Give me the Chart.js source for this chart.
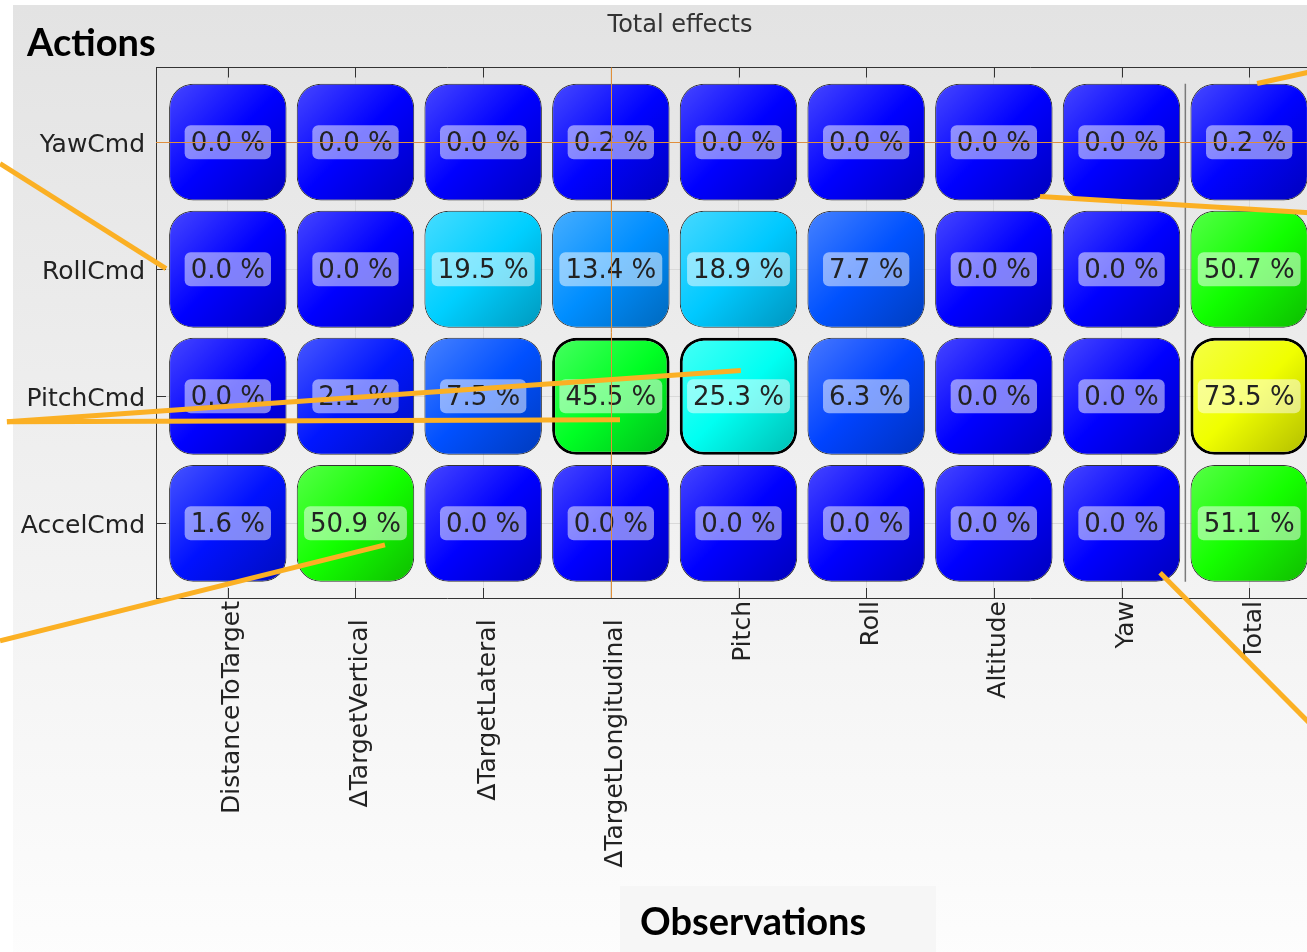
<!DOCTYPE html>
<html lang="en">
<head>
<meta charset="UTF-8" />
<title>Total effects</title>
<script src="https://cdn.jsdelivr.net/npm/chart.js@4"></script>
<style>
  html, body { margin: 0; padding: 0; overflow: hidden; background: #fff; width: 1307px; height: 952px; }
  #panel { position: absolute; left: 13px; top: 5px; width: 1400px; height: 960px; background: linear-gradient(#e3e3e3, #fdfdfd); }
  #wrap { position: absolute; left: 0; top: 0; width: 1360px; height: 952px; }
  #title { position: absolute; left: 480px; width: 400px; top: 10px; text-align: center; font-family: 'DejaVu Sans', sans-serif; font-size: 24px; line-height: 28px; color: #333; }
  .big { position: absolute; font-family: Lato, sans-serif; font-weight: bold; font-size: 38px; line-height: 38px; color: #000; white-space: nowrap; }
  #actions { left: 27px; top: 22px; }
  #obsBox { position: absolute; left: 620px; top: 886px; width: 316px; height: 70px; background: #f6f6f6; }
  #observations { left: 640px; top: 901px; }
</style>
</head>
<body>
<div id="panel"></div>
<div id="obsBox"></div>
<div id="wrap"><canvas id="chart"></canvas></div>
<div id="title">Total effects</div>
<div class="big" id="actions">Actions</div>
<div class="big" id="observations">Observations</div>

<script>
  // rows (actions) and columns (observations)
  const rows = ["YawCmd", "RollCmd", "PitchCmd", "AccelCmd"];
  const cols = ["DistanceToTarget", "ΔTargetVertical", "ΔTargetLateral", "ΔTargetLongitudinal",
                "Pitch", "Roll", "Altitude", "Yaw", "Total"];

  // effect in %, one array per action
  const yawCmd   = [0.0, 0.0, 0.0, 0.2, 0.0, 0.0, 0.0, 0.0, 0.2];
  const rollCmd  = [0.0, 0.0, 19.5, 13.4, 18.9, 7.7, 0.0, 0.0, 50.7];
  const pitchCmd = [0.0, 2.1, 7.5, 45.5, 25.3, 6.3, 0.0, 0.0, 73.5];
  const accelCmd = [1.6, 50.9, 0.0, 0.0, 0.0, 0.0, 0.0, 0.0, 51.1];
  const series = [yawCmd, rollCmd, pitchCmd, accelCmd];

  // cells drawn with a heavy outline: [row, col]
  const highlighted = [[2, 3], [2, 4], [2, 8]];
  // data cursor
  const cursorRow = 0, cursorCol = 3;

  const CELL = 0.92;       // cell size in axis units
  const HALF = CELL / 2;

  // blue -> cyan -> green -> yellow -> red
  const cmap = [[0, [0, 0, 255]], [24, [0, 255, 255]], [49, [0, 255, 0]], [75, [255, 255, 0]], [100, [255, 0, 0]]];
  function colorFor(v) {
    for (let i = 1; i < cmap.length; i++) {
      if (v <= cmap[i][0]) {
        const [v0, c0] = cmap[i - 1], [v1, c1] = cmap[i];
        const t = (v - v0) / (v1 - v0);
        return c0.map((c, k) => Math.round(c + (c1[k] - c) * t));
      }
    }
    return cmap[cmap.length - 1][1];
  }
  const rgb = (c) => `rgb(${c[0]},${c[1]},${c[2]})`;
  const isHi = (r, c) => highlighted.some(([hr, hc]) => hr === r && hc === c);

  function cellFill(ctx) {
    if (ctx.type !== "data") return "#0000ff";
    const r = ctx.datasetIndex, c = ctx.dataIndex;
    const base = colorFor(series[r][c]);
    const { x, y } = ctx.chart.scales;
    if (!x || !y) return rgb(base);
    const cx = x.getPixelForValue(c), cy = y.getPixelForValue(r);
    const hw = Math.abs(x.getPixelForValue(HALF) - x.getPixelForValue(0));
    const hh = Math.abs(y.getPixelForValue(HALF) - y.getPixelForValue(0));
    if (![cx, cy, hw, hh].every(isFinite)) return rgb(base);
    const g = ctx.chart.ctx.createLinearGradient(cx - hw, cy - hh, cx + hw, cy + hh);
    g.addColorStop(0, rgb(base.map((k) => k + (255 - k) * 0.28)));
    g.addColorStop(0.5, rgb(base));
    g.addColorStop(1, rgb(base.map((k) => k * 0.74)));
    return g;
  }

  // orange callouts, endpoints in axis units [x, y]
  const callouts = [
    [[-1.784, 0.168], [-0.484, 0.995]],
    [[8.062, -0.462], [8.635, -0.588]],
    [[6.362, 0.428], [8.635, 0.565]],
    [[-1.730, 2.200], [4.018, 1.798]],
    [[-1.730, 2.200], [3.072, 2.184]],
    [[-1.784, 3.925], [1.231, 3.169]],
    [[7.302, 3.389], [8.635, 4.737]],
  ];

  const decor = {
    id: "decor",
    beforeDatasetsDraw(chart) {
      const { ctx, chartArea: a, scales: { x, y } } = chart;
      ctx.save();
      // separator before the Total column
      ctx.strokeStyle = "#7a7a7a";
      ctx.lineWidth = 1.5;
      const sx = x.getPixelForValue(7.5);
      ctx.beginPath();
      ctx.moveTo(sx, y.getPixelForValue(-HALF));
      ctx.lineTo(sx, y.getPixelForValue(rows.length - 1 + HALF));
      ctx.stroke();
      // inward tick marks
      ctx.strokeStyle = "#333";
      ctx.lineWidth = 1;
      ctx.beginPath();
      cols.forEach((_, i) => {
        const px = Math.round(x.getPixelForValue(i)) + 0.5;
        ctx.moveTo(px, a.top); ctx.lineTo(px, a.top + 10);
        ctx.moveTo(px, a.bottom); ctx.lineTo(px, a.bottom - 10);
      });
      rows.forEach((_, i) => {
        const py = Math.round(y.getPixelForValue(i)) + 0.5;
        ctx.moveTo(a.left, py); ctx.lineTo(a.left + 10, py);
      });
      ctx.stroke();
      ctx.restore();
    },
    afterDatasetsDraw(chart) {
      const { ctx, chartArea: a, scales: { x, y } } = chart;
      ctx.save();
      // value labels
      ctx.font = "26px 'DejaVu Sans'";
      ctx.textAlign = "center";
      ctx.textBaseline = "middle";
      series.forEach((vals, r) => {
        const meta = chart.getDatasetMeta(r);
        vals.forEach((v, c) => {
          const p = meta.data[c].getCenterPoint();
          const txt = v.toFixed(1) + " %";
          const w = ctx.measureText(txt).width + 12;
          ctx.fillStyle = "rgba(255,255,255,0.5)";
          ctx.beginPath();
          ctx.roundRect(p.x - w / 2, p.y - 17, w, 34, 6);
          ctx.fill();
          ctx.fillStyle = "#222";
          ctx.fillText(txt, p.x, p.y + 2);
        });
      });
      // data cursor
      ctx.strokeStyle = "#e0903a";
      ctx.lineWidth = 1;
      ctx.beginPath();
      const cy = Math.round(y.getPixelForValue(cursorRow)) + 0.5;
      const cx = Math.round(x.getPixelForValue(cursorCol)) + 0.5;
      ctx.moveTo(a.left, cy); ctx.lineTo(a.right, cy);
      ctx.moveTo(cx, a.top); ctx.lineTo(cx, a.bottom);
      ctx.stroke();
      // callouts
      ctx.strokeStyle = "#fbb024";
      ctx.lineWidth = 5;
      callouts.forEach(([p0, p1]) => {
        ctx.beginPath();
        ctx.moveTo(x.getPixelForValue(p0[0]), y.getPixelForValue(p0[1]));
        ctx.lineTo(x.getPixelForValue(p1[0]), y.getPixelForValue(p1[1]));
        ctx.stroke();
      });
      ctx.restore();
    },
  };

  Chart.defaults.font.family = "'DejaVu Sans'";
  Chart.defaults.color = "#222";

  const colTicks = (s) => { s.ticks = cols.map((_, i) => ({ value: i })); };
  // the Δ labels sit a little further from the axis in the original
  const colLabel = (v) => {
    const t = cols[v];
    if (t === undefined) return "";
    return t.startsWith("Δ") ? t + "\u00a0\u00a0\u200a" : t;
  };

  new Chart(document.getElementById("chart"), {
    type: "bar",
    data: {
      datasets: series.map((vals, r) => ({
        label: rows[r],
        data: vals.map((v, c) => ({ x: c, y: [r - HALF, r + HALF] })),
        backgroundColor: cellFill,
        borderColor: (ctx) => (ctx.type === "data" && isHi(ctx.datasetIndex, ctx.dataIndex) ? "#000" : "#333"),
        borderWidth: (ctx) => (ctx.type === "data" && isHi(ctx.datasetIndex, ctx.dataIndex) ? 3 : 1),
        borderRadius: 24,
        borderSkipped: false,
        grouped: false,
        barPercentage: CELL,
        categoryPercentage: 1,
      })),
    },
    options: {
      responsive: true,
      maintainAspectRatio: false,
      animation: false,
      layout: { padding: { left: 0, right: 39, top: 67.5, bottom: 0 } },
      plugins: {
        legend: { display: false },
        tooltip: { enabled: false },
        title: { display: false },
      },
      scales: {
        x: {
          type: "linear",
          position: "bottom",
          offset: false,
          min: -0.5625,
          max: 8.5625,
          afterBuildTicks: colTicks,
          afterFit: (s) => { s.height = 354; },
          grid: { color: "#d9d9d9", drawTicks: false, offset: false },
          border: { display: true, color: "#333", width: 1 },
          ticks: {
            autoSkip: false,
            minRotation: 90,
            maxRotation: 90,
            padding: 3,
            labelOffset: 5,
            font: { size: 25 },
            color: "#222",
            callback: colLabel,
          },
        },
        x2: {
          type: "linear",
          position: "top",
          offset: false,
          min: -0.5625,
          max: 8.5625,
          afterFit: (s) => { s.height = 0; },
          grid: { display: false, drawTicks: false },
          border: { display: true, color: "#333", width: 1 },
          ticks: { display: false },
        },
        y: {
          type: "linear",
          reverse: true,
          min: -0.5875,
          max: 3.5875,
          afterBuildTicks: (s) => { s.ticks = rows.map((_, i) => ({ value: i })); },
          afterFit: (s) => { s.width = 156; },
          grid: { color: "#d9d9d9", drawTicks: false },
          border: { display: true, color: "#333", width: 1 },
          ticks: {
            padding: 11,
            labelOffset: 3,
            font: { size: 25 },
            color: "#222",
            callback: (v) => rows[v] ?? "",
          },
        },
      },
    },
    plugins: [decor],
  });
</script>
</body>
</html>
